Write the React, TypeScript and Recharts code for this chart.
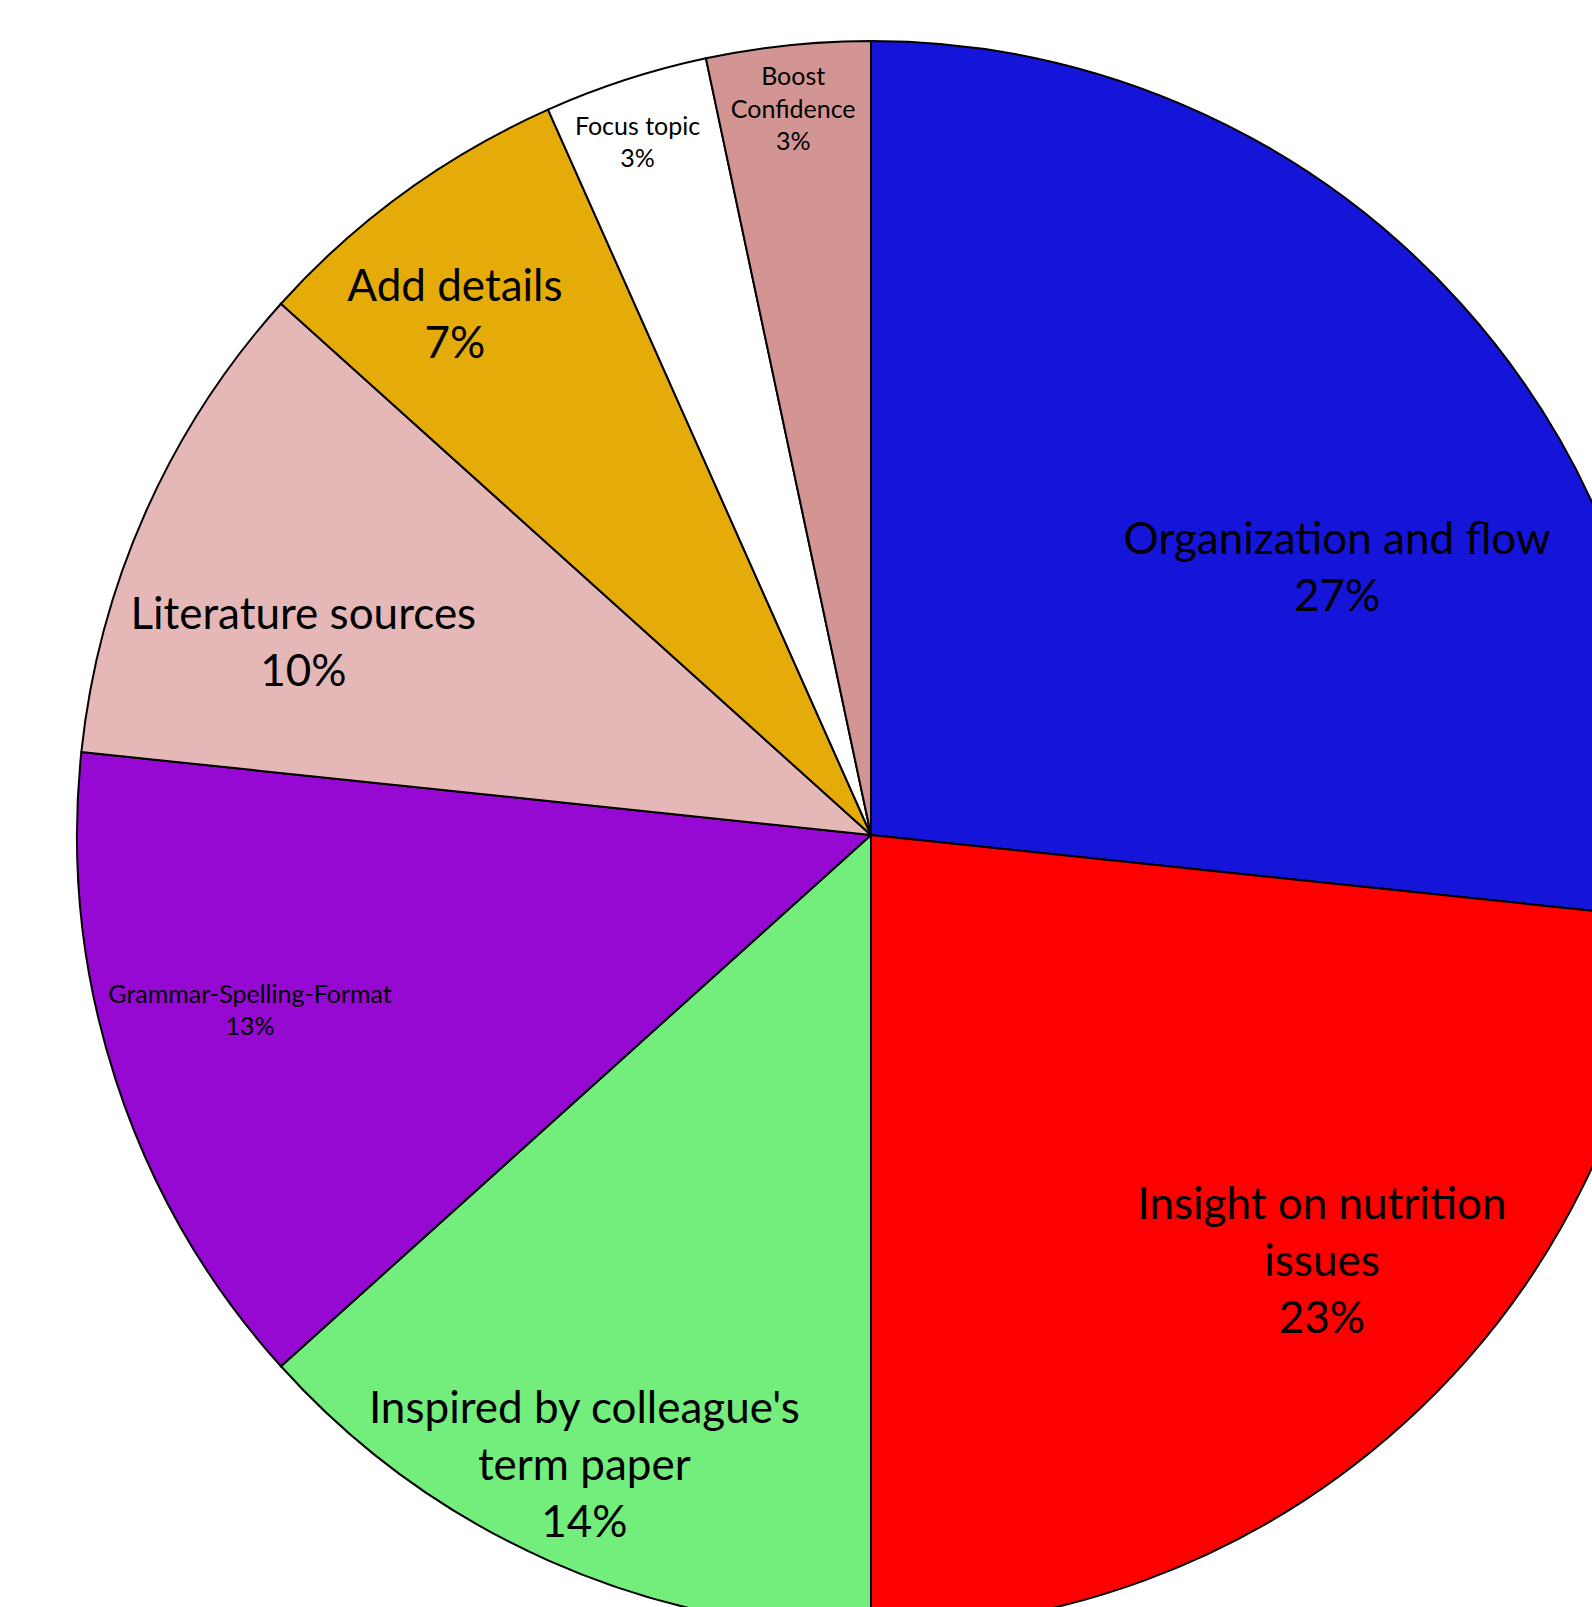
import { Cell, Pie, PieChart } from "recharts";

// Respostas (n = 30) e rótulos percentuais como aparecem no gráfico
const CATEGORIAS = [
  "Organization and flow",
  "Insight on nutrition\nissues",
  "Inspired by colleague's\nterm paper",
  "Grammar-Spelling-Format",
  "Literature sources",
  "Add details",
  "Focus topic",
  "Boost\nConfidence",
];
const VALORES = [8, 7, 4, 4, 3, 2, 1, 1];
const PERCENTUAIS = ["27%", "23%", "14%", "13%", "10%", "7%", "3%", "3%"];

const CORES = [
  "#1515D9",
  "#FF0000",
  "#73EE7D",
  "#9509D3",
  "#E5B8B7",
  "#E5AC09",
  "#FFFFFF",
  "#D29594",
];

// posição do rótulo (fração do raio, relativa ao centro) e tamanho da fonte
const ROTULOS = [
  { fx: 0.587, fy: -0.339, fs: 44 },
  { fx: 0.568, fy: 0.534, fs: 44 },
  { fx: -0.361, fy: 0.791, fs: 44 },
  { fx: -0.782, fy: 0.219, fs: 25 },
  { fx: -0.715, fy: -0.245, fs: 44 },
  { fx: -0.524, fy: -0.658, fs: 44 },
  { fx: -0.294, fy: -0.874, fs: 25 },
  { fx: -0.098, fy: -0.916, fs: 25 },
];

const dados = CATEGORIAS.map((nome, i) => ({ nome, valor: VALORES[i] }));

function Rotulo(props: any) {
  const { cx, cy, outerRadius, index } = props;
  const r = ROTULOS[index];
  const linhas = [...CATEGORIAS[index].split("\n"), PERCENTUAIS[index]];
  const lh = r.fs * 1.3;
  const x = cx + r.fx * outerRadius;
  const y0 = cy + r.fy * outerRadius - ((linhas.length - 1) * lh) / 2;
  return (
    <text
      x={x}
      y={y0}
      textAnchor="middle"
      fill="#000"
      fontSize={r.fs}
      fontFamily="Lato, 'Open Sans', sans-serif"
    >
      {linhas.map((l, i) => (
        <tspan key={i} x={x} y={y0 + i * lh} dominantBaseline="central">
          {l}
        </tspan>
      ))}
    </text>
  );
}

export default function App() {
  return (
    <div style={{ width: 1592, height: 1607, overflow: "hidden", background: "#fff" }}>
      <style>{`body{margin:0}`}</style>
      <PieChart width={1592} height={1607}>
        <Pie
          data={dados}
          dataKey="valor"
          nameKey="nome"
          cx={866}
          cy={830}
          outerRadius={794}
          startAngle={90}
          endAngle={-270}
          stroke="#000"
          strokeWidth={2}
          label={Rotulo}
          labelLine={false}
          isAnimationActive={false}
        >
          {dados.map((_, i) => (
            <Cell key={i} fill={CORES[i]} />
          ))}
        </Pie>
      </PieChart>
    </div>
  );
}
